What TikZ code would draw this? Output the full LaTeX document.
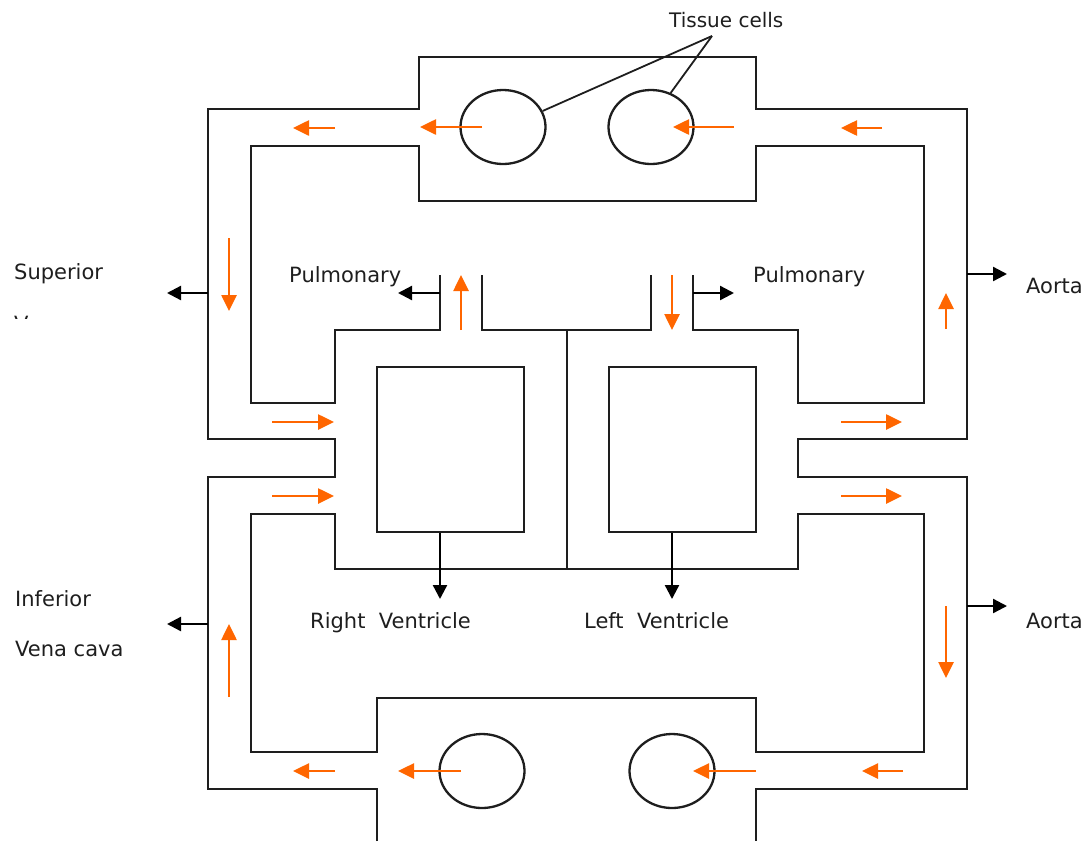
\documentclass[tikz,border=0pt]{standalone}
\usepackage{fontspec}
\setmainfont{DejaVu Sans}
\usetikzlibrary{arrows.meta,shapes.geometric}
\definecolor{flow}{RGB}{255,102,0}
\definecolor{ink}{RGB}{30,30,30}
\tikzset{
  wall/.style={line width=2.3pt,draw=ink,line join=miter},
  flowarrow/.style={line width=2.6pt,draw=flow,-{Triangle[length=16pt,width=15pt]},color=flow},
  outarrow/.style={line width=2.3pt,draw=black,-{Triangle[length=14pt,width=14pt]}},
  cell/.style={ellipse,draw=ink,line width=2.3pt,minimum width=85pt,minimum height=74pt,inner sep=0pt},
  chamber/.style={rectangle,draw=ink,line width=2.3pt,inner sep=0pt},
  lbl/.style={anchor=base west,inner sep=0pt,text=ink,font=\fontsize{21}{24}\selectfont},
}
\begin{document}
\begin{tikzpicture}[x=1pt,y=-1pt]
\useasboundingbox (0,0) rectangle (1086,841);
% outer contour
\draw[wall] (377,841) -- (377,789) -- (208,789) -- (208,477) -- (335,477) -- (335,439) -- (208,439) -- (208,109) -- (419,109) -- (419,57) -- (756,57) -- (756,109) -- (967,109) -- (967,439) -- (798,439) -- (798,477) -- (967,477) -- (967,789) -- (756,789) -- (756,841);
% inner upper contour
\draw[wall] (440,275) -- (440,330) -- (335,330) -- (335,403) -- (251,403) -- (251,146) -- (419,146) -- (419,201) -- (756,201) -- (756,146) -- (924,146) -- (924,403) -- (798,403) -- (798,330) -- (693,330) -- (693,275);
% central upper
\draw[wall] (482,275) -- (482,330) -- (651,330) -- (651,275);
\draw[wall] (567,330) -- (567,569);
% inner lower contour
\draw[wall] (251,514) -- (335,514) -- (335,569) -- (798,569) -- (798,514) -- (924,514) -- (924,752) -- (756,752) -- (756,698) -- (377,698) -- (377,752) -- (251,752) -- cycle;
% chambers
\node[chamber,minimum width=147pt,minimum height=165pt] (rv) at (450.5,449.5) {};
\node[chamber,minimum width=147pt,minimum height=165pt] (lv) at (682.5,449.5) {};
% cells
\node[cell] (c1) at (503,127) {};
\node[cell] (c2) at (651,127) {};
\node[cell] (c3) at (482,771) {};
\node[cell] (c4) at (672,771) {};
% labels
\node[lbl,font=\fontsize{20}{24}\selectfont] (tc) at (669,27) {Tissue cells};
\coordinate (tcp) at (712,36);
\draw[line width=1.8pt,ink] (tcp) -- (c1.22);
\draw[line width=1.8pt,ink] (tcp) -- (c2.60);
\node[lbl] (sup) at (14,279) {Superior};
\begin{scope}
\clip (0,300) rectangle (200,318);
\node[lbl] (supvc) at (14,331) {Vena cava};
\end{scope}
\node[lbl] (inf) at (15,606) {Inferior};
\node[lbl] (infvc) at (15,656) {Vena cava};
\node[lbl] (pl) at (289,282) {Pulmonary};
\node[lbl] (pr) at (753,282) {Pulmonary};
\node[lbl] (ao1) at (1026,293) {Aorta};
\node[lbl] (ao2) at (1026,628) {Aorta};
\node[lbl] (rvl) at (310,628) {Right\ \ Ventricle};
\node[lbl] (lvl) at (584,628) {Left\ \ Ventricle};
% black outflow arrows
\draw[outarrow] (208,293) -- (167,293);
\draw[outarrow] (208,624) -- (167,624);
\draw[outarrow] (440,293) -- (398,293);
\draw[outarrow] (693,293) -- (734,293);
\draw[outarrow] (967,274) -- (1007,274);
\draw[outarrow] (967,606) -- (1007,606);
\draw[outarrow] (rv.south -| 440,0) -- (440,599);
\draw[outarrow] (lv.south -| 672,0) -- (672,599);
% orange flow arrows
\draw[flowarrow] (335,128) -- (293,128);
\draw[flowarrow] (482,127) -- (420,127);
\draw[flowarrow] (734,127) -- (673,127);
\draw[flowarrow] (882,128) -- (841,128);
\draw[flowarrow] (229,238) -- (229,311);
\draw[flowarrow] (461,330) -- (461,275);
\draw[flowarrow] (672,275) -- (672,330);
\draw[flowarrow] (946,329) -- (946,293);
\draw[flowarrow] (272,422) -- (334,422);
\draw[flowarrow] (841,422) -- (902,422);
\draw[flowarrow] (272,496) -- (334,496);
\draw[flowarrow] (841,496) -- (902,496);
\draw[flowarrow] (229,697) -- (229,624);
\draw[flowarrow] (946,606) -- (946,678);
\draw[flowarrow] (335,771) -- (293,771);
\draw[flowarrow] (461,771) -- (398,771);
\draw[flowarrow] (756,771) -- (693,771);
\draw[flowarrow] (903,771) -- (862,771);
\end{tikzpicture}
\end{document}
